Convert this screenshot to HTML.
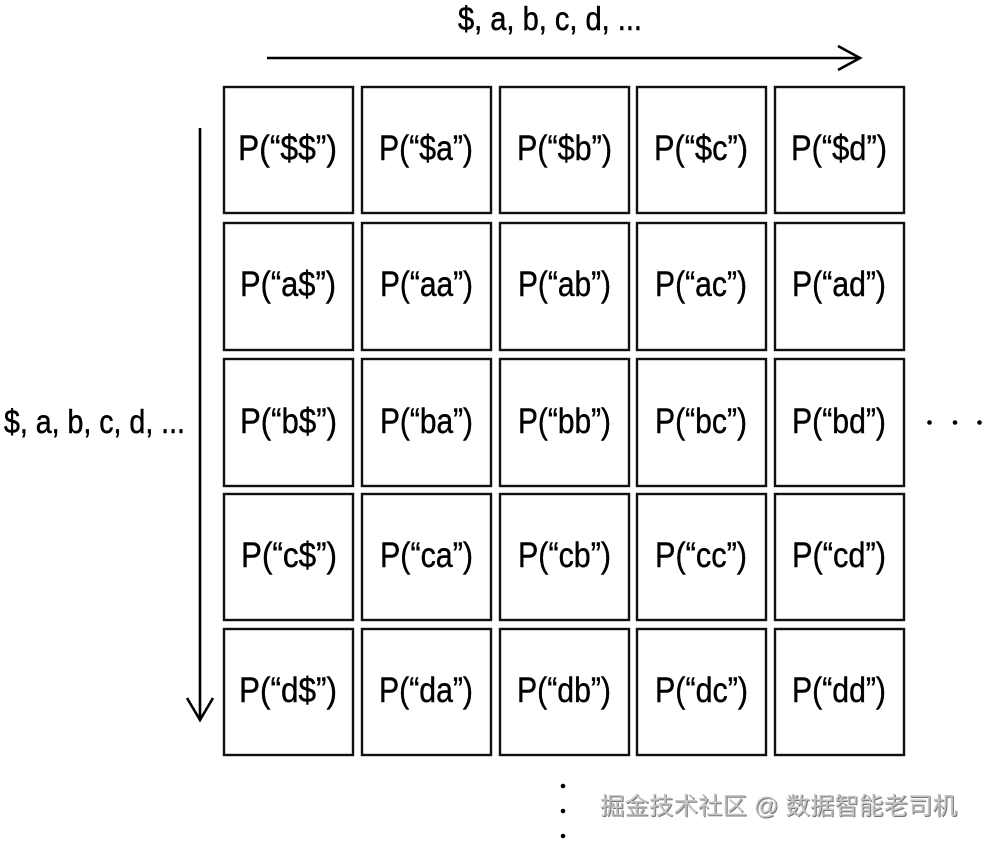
<!DOCTYPE html>
<html>
<head>
<meta charset="utf-8">
<style>
html,body{margin:0;padding:0;background:#fff;}
svg{display:block;}
</style>
</head>
<body>
<svg width="983" height="842" viewBox="0 0 983 842" xmlns="http://www.w3.org/2000/svg">
<rect width="983" height="842" fill="#fff"/>
<!-- top axis label -->
<text x="458" y="30" font-family="Liberation Sans, sans-serif" font-size="33" fill="#000" stroke="#000" stroke-width="0.5" textLength="184" lengthAdjust="spacingAndGlyphs">$, a, b, c, d, ...</text>
<!-- horizontal arrow -->
<line x1="267" y1="58" x2="859" y2="58" stroke="#000" stroke-width="2.6"/>
<polyline points="838,46 860,58 838,70" fill="none" stroke="#000" stroke-width="2.6" stroke-linejoin="miter"/>
<!-- vertical arrow -->
<line x1="200" y1="128" x2="200" y2="719" stroke="#000" stroke-width="2.6"/>
<polyline points="187,698 200,720 213,698" fill="none" stroke="#000" stroke-width="2.6"/>
<!-- left axis label -->
<text x="4" y="433" font-family="Liberation Sans, sans-serif" font-size="33" fill="#000" stroke="#000" stroke-width="0.5" textLength="181" lengthAdjust="spacingAndGlyphs">$, a, b, c, d, ...</text>

<g fill="none" stroke="#111" stroke-width="2.4">
<rect x="224" y="87" width="129" height="126"/>
<rect x="362" y="87" width="129" height="126"/>
<rect x="500" y="87" width="129" height="126"/>
<rect x="637" y="87" width="129" height="126"/>
<rect x="775" y="87" width="129" height="126"/>

<rect x="224" y="223" width="129" height="127"/>
<rect x="362" y="223" width="129" height="127"/>
<rect x="500" y="223" width="129" height="127"/>
<rect x="637" y="223" width="129" height="127"/>
<rect x="775" y="223" width="129" height="127"/>

<rect x="224" y="359" width="129" height="127"/>
<rect x="362" y="359" width="129" height="127"/>
<rect x="500" y="359" width="129" height="127"/>
<rect x="637" y="359" width="129" height="127"/>
<rect x="775" y="359" width="129" height="127"/>

<rect x="224" y="494" width="129" height="126"/>
<rect x="362" y="494" width="129" height="126"/>
<rect x="500" y="494" width="129" height="126"/>
<rect x="637" y="494" width="129" height="126"/>
<rect x="775" y="494" width="129" height="126"/>

<rect x="224" y="629" width="129" height="126"/>
<rect x="362" y="629" width="129" height="126"/>
<rect x="500" y="629" width="129" height="126"/>
<rect x="637" y="629" width="129" height="126"/>
<rect x="775" y="629" width="129" height="126"/>
</g>

<g font-family="Liberation Sans, sans-serif" font-size="35" fill="#000" stroke="#000" stroke-width="0.4">
<text x="238" y="160" textLength="99" lengthAdjust="spacingAndGlyphs">P(“$$”)</text>
<text x="379" y="160" textLength="94" lengthAdjust="spacingAndGlyphs">P(“$a”)</text>
<text x="517" y="160" textLength="95" lengthAdjust="spacingAndGlyphs">P(“$b”)</text>
<text x="654" y="160" textLength="94" lengthAdjust="spacingAndGlyphs">P(“$c”)</text>
<text x="791" y="160" textLength="96" lengthAdjust="spacingAndGlyphs">P(“$d”)</text>

<text x="240" y="296" textLength="96" lengthAdjust="spacingAndGlyphs">P(“a$”)</text>
<text x="380" y="296" textLength="93" lengthAdjust="spacingAndGlyphs">P(“aa”)</text>
<text x="518" y="296" textLength="93" lengthAdjust="spacingAndGlyphs">P(“ab”)</text>
<text x="655" y="296" textLength="92" lengthAdjust="spacingAndGlyphs">P(“ac”)</text>
<text x="792" y="296" textLength="94" lengthAdjust="spacingAndGlyphs">P(“ad”)</text>

<text x="240" y="433" textLength="97" lengthAdjust="spacingAndGlyphs">P(“b$”)</text>
<text x="380" y="433" textLength="93" lengthAdjust="spacingAndGlyphs">P(“ba”)</text>
<text x="518" y="433" textLength="93" lengthAdjust="spacingAndGlyphs">P(“bb”)</text>
<text x="655" y="433" textLength="92" lengthAdjust="spacingAndGlyphs">P(“bc”)</text>
<text x="792" y="433" textLength="94" lengthAdjust="spacingAndGlyphs">P(“bd”)</text>

<text x="241" y="567" textLength="96" lengthAdjust="spacingAndGlyphs">P(“c$”)</text>
<text x="380" y="567" textLength="93" lengthAdjust="spacingAndGlyphs">P(“ca”)</text>
<text x="518" y="567" textLength="93" lengthAdjust="spacingAndGlyphs">P(“cb”)</text>
<text x="655" y="567" textLength="92" lengthAdjust="spacingAndGlyphs">P(“cc”)</text>
<text x="792" y="567" textLength="94" lengthAdjust="spacingAndGlyphs">P(“cd”)</text>

<text x="239" y="702" textLength="98" lengthAdjust="spacingAndGlyphs">P(“d$”)</text>
<text x="379" y="702" textLength="94" lengthAdjust="spacingAndGlyphs">P(“da”)</text>
<text x="517" y="702" textLength="94" lengthAdjust="spacingAndGlyphs">P(“db”)</text>
<text x="655" y="702" textLength="93" lengthAdjust="spacingAndGlyphs">P(“dc”)</text>
<text x="792" y="702" textLength="94" lengthAdjust="spacingAndGlyphs">P(“dd”)</text>
</g>

<!-- right ellipsis -->
<circle cx="929.5" cy="422.5" r="2.3" fill="#000"/>
<circle cx="955" cy="422.5" r="2.3" fill="#000"/>
<circle cx="979.5" cy="422.5" r="2.3" fill="#000"/>
<!-- bottom ellipsis -->
<circle cx="563" cy="786" r="2.3" fill="#000"/>
<circle cx="563" cy="811" r="2.3" fill="#000"/>
<circle cx="563" cy="836" r="2.3" fill="#000"/>

<!-- watermark -->
<text x="601" y="815" font-family="Liberation Sans, Noto Sans CJK SC, sans-serif" font-size="24" fill="#777" textLength="357" lengthAdjust="spacingAndGlyphs">掘金技术社区 @ 数据智能老司机</text>
<text x="600" y="814" font-family="Liberation Sans, Noto Sans CJK SC, sans-serif" font-size="24" fill="#c4c4c4" textLength="357" lengthAdjust="spacingAndGlyphs">掘金技术社区 @ 数据智能老司机</text>
</svg>
</body>
</html>
